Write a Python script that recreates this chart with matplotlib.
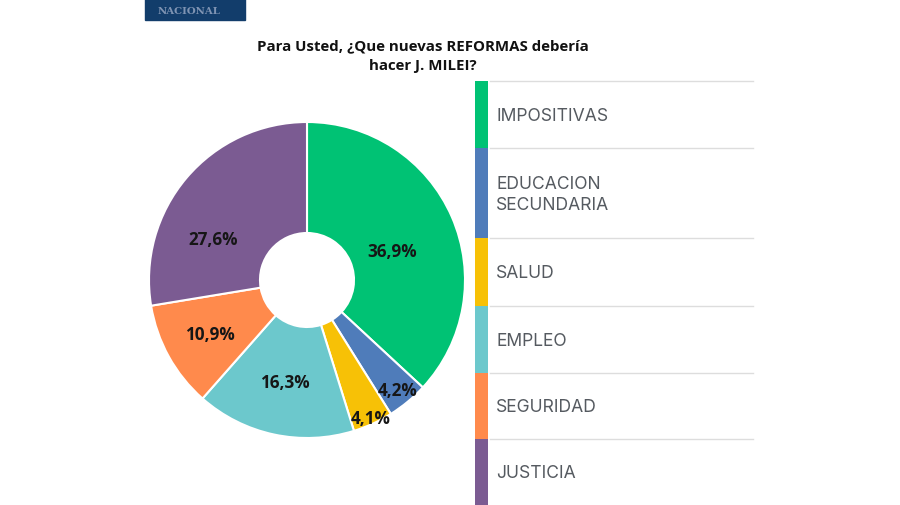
import matplotlib
matplotlib.use("Agg")
import matplotlib.pyplot as plt
import numpy as np
from matplotlib.patches import Rectangle

TITLE = "Para Usted, ¿Que nuevas REFORMAS debería\nhacer J. MILEI?"
CATEGORIES = ["IMPOSITIVAS", "EDUCACION\nSECUNDARIA", "SALUD", "EMPLEO", "SEGURIDAD", "JUSTICIA"]
VALUES = [36.9, 4.2, 4.1, 16.3, 10.9, 27.6]
VALUE_LABELS = ["36,9%", "4,2%", "4,1%", "16,3%", "10,9%", "27,6%"]
COLORS = ["#00c274", "#4f7cba", "#f7c106", "#6cc8cc", "#ff8a4c", "#7b5b92"]

# label placement: radius fraction and angle nudge (degrees)
LABEL_R = [0.57, 0.90, 0.96, 0.66, 0.70, 0.65]
LABEL_DA = [-5, 0, 0, 0, 0, 16.7]

# legend block bounds (pixels from top)
LEGEND_EDGES = [82, 149, 239, 307, 374, 440, 506]

W, H = 900, 506
fig = plt.figure(figsize=(W / 100, H / 100), dpi=100)
fig.patch.set_facecolor("white")

# canvas axes in pixel coordinates
bg = fig.add_axes([0, 0, 1, 1])
bg.set_xlim(0, W)
bg.set_ylim(H, 0)
bg.axis("off")

# logo strip
bg.add_patch(Rectangle((145, 0), 100, 21, color="#123d6b", zorder=1))
bg.text(158, 11, "NACIONAL", family="DejaVu Serif", fontsize=7.3, fontweight="bold",
        color="#7f94b3", va="center", ha="left", zorder=2)

bg.text(423, 56, TITLE, ha="center", va="center", fontsize=10.8, fontweight="bold",
        family="Open Sans", color="#111111", linespacing=1.55)

# legend
for i, (cat, col) in enumerate(zip(CATEGORIES, COLORS)):
    top, bot = LEGEND_EDGES[i], LEGEND_EDGES[i + 1]
    bg.add_patch(Rectangle((475, top), 13, bot - top, color=col, lw=0))
    bg.plot([490, 753], [top, top], color="#dddddd", lw=1)
    bg.text(496, (top + bot) / 2 + 1, cat, ha="left", va="center", fontsize=12.6,
            family="Inter", color="#555a60", linespacing=1.3)

# donut
cx, cy, rpx = 307, 281, 158
box = 162
ax = fig.add_axes([(cx - box) / W, (H - cy - box) / H, 2 * box / W, 2 * box / H])
wedges, _ = ax.pie(VALUES, colors=COLORS, startangle=90, counterclock=False,
                   radius=1, wedgeprops=dict(width=1 - 47 / rpx, edgecolor="white", linewidth=1.5))
lim = box / rpx
ax.set_xlim(-lim, lim)
ax.set_ylim(-lim, lim)
ax.set_aspect("equal")
ax.axis("off")

for w, lab, rf, da in zip(wedges, VALUE_LABELS, LABEL_R, LABEL_DA):
    ang = np.deg2rad((w.theta1 + w.theta2) / 2 + da)
    ax.text(rf * np.cos(ang), rf * np.sin(ang), lab, ha="center", va="center",
            fontsize=12.3, fontweight="bold", family="Open Sans", color="#161616")

fig.savefig("out.png", dpi=100)
